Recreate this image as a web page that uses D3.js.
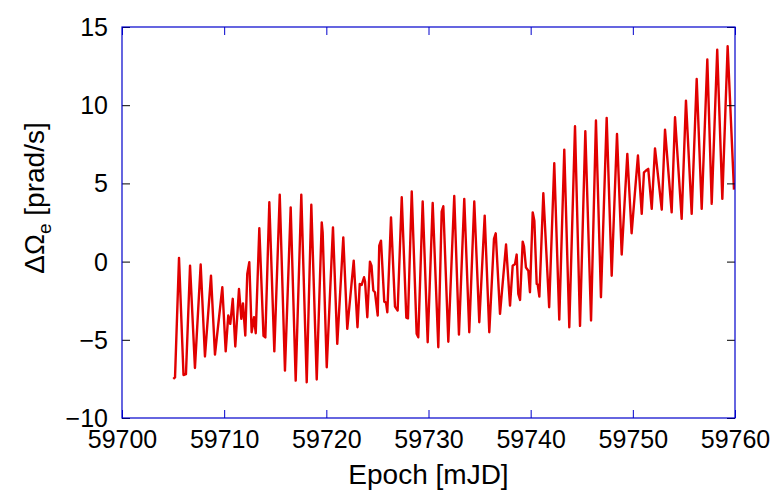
<!DOCTYPE html>
<html>
<head>
<meta charset="utf-8">
<script src="https://cdn.jsdelivr.net/npm/d3@7"></script>
<style>
  html, body { margin: 0; padding: 0; background: #fff; }
  svg { display: block; }
  text { font-family: "Liberation Sans", Arial, Helvetica, sans-serif; fill: #000; }
</style>
</head>
<body>
<svg id="chart" width="771" height="493"></svg>
<script>
// ---- data ----
const epoch = [
  59705.02, 59705.19, 59705.58, 59706.02, 59706.26, 59706.66, 59707.14, 59707.70, 59708.12, 59708.71,
  59709.10, 59709.82, 59710.15, 59710.40, 59710.60, 59710.84, 59711.09, 59711.45, 59711.68, 59711.84,
  59712.07, 59712.26, 59712.46, 59712.69, 59712.92, 59713.09, 59713.44, 59713.85, 59714.03, 59714.42,
  59714.91, 59715.44, 59715.95, 59716.51, 59717.00, 59717.55, 59718.08, 59718.53, 59719.06, 59719.55,
  59719.64, 59720.04, 59720.65, 59721.07, 59721.66, 59722.05, 59722.68, 59723.05, 59723.27, 59723.46,
  59723.69, 59723.79, 59724.01, 59724.27, 59724.42, 59724.60, 59724.76, 59725.03, 59725.18, 59725.35,
  59725.67, 59725.84, 59725.97, 59726.33, 59726.72, 59726.98, 59727.38, 59727.83, 59727.99, 59728.36,
  59728.84, 59729.00, 59729.43, 59729.92, 59730.41, 59730.96, 59731.29, 59731.45, 59731.94, 59732.52,
  59732.98, 59733.50, 59733.99, 59734.48, 59734.97, 59735.50, 59735.95, 59736.41, 59736.58, 59737.00,
  59737.59, 59737.98, 59738.24, 59738.47, 59738.63, 59738.79, 59738.96, 59739.22, 59739.35, 59739.54,
  59739.77, 59739.93, 59740.20, 59740.36, 59740.59, 59740.69, 59740.85, 59741.24, 59741.81, 59742.31,
  59742.80, 59743.29, 59743.78, 59744.34, 59744.83, 59745.35, 59745.91, 59746.39, 59746.88, 59747.44,
  59747.93, 59748.45, 59748.91, 59749.46, 59749.88, 59750.50, 59750.87, 59751.09, 59751.29, 59751.51,
  59751.85, 59752.17, 59752.83, 59753.15, 59753.80, 59754.13, 59754.78, 59755.20, 59755.76, 59756.25,
  59756.74, 59757.29, 59757.72, 59758.26, 59758.76, 59759.28, 59759.90
];
const deltaOmega = [
  -7.50, -7.40, 0.24, -7.25, -7.20, -0.26, -6.80, -0.19, -6.07, -0.90,
  -5.95, -1.64, -5.74, -3.45, -3.98, -2.38, -5.43, -1.75, -3.66, -2.67,
  -4.73, -0.79, -0.04, -4.52, -3.56, -4.58, 2.13, -4.75, -4.85, 3.79,
  -5.74, 4.28, -6.97, 3.47, -7.61, 4.28, -7.72, 3.64, -7.54, 2.51,
  1.87, -6.76, 2.19, -5.26, 1.55, -4.30, 0.06, -4.20, -1.43, -1.49,
  -1.00, -1.28, -3.56, 0.00, -0.26, -1.85, -1.96, -3.45, 1.02, 1.34,
  -2.56, -2.62, -3.24, 2.83, -2.88, -3.13, 4.11, -3.58, -3.63, 4.48,
  -4.62, -4.84, 3.84, -5.16, 3.75, -5.48, 3.20, 3.54, -5.12, 4.19,
  -4.67, 4.01, -4.52, 3.84, -3.88, 2.94, -4.52, 1.45, 1.81, -3.34,
  1.09, -2.81, -0.26, -0.15, 0.45, -2.07, -2.45, 1.28, 0.96, -0.38,
  -0.58, -1.96, 3.15, 2.62, -1.43, -1.47, -2.24, 4.37, -2.92, 6.29,
  -3.71, 7.16, -4.20, 8.65, -4.11, 8.33, -3.77, 9.02, -2.28, 9.19,
  -0.90, 8.16, 0.45, 6.89, 1.81, 6.78, 3.05, 5.71, 5.82, 5.93,
  3.37, 7.24, 3.32, 8.44, 3.15, 9.23, 2.73, 10.29, 3.05, 11.68,
  3.37, 12.92, 3.69, 13.55, 4.01, 13.77, 4.60
];
const xTicks = [59700, 59710, 59720, 59730, 59740, 59750, 59760];
const yTicks = [-10, -5, 0, 5, 10, 15];
const xLabel = "Epoch [mJD]";

// ---- layout ----
const svg = d3.select("#chart");
const pLeft = 122, pRight = 735, pTop = 27, pBottom = 418;
const frameColor = "#0000cc";
const lineColor = "#e10000";

const x = d3.scaleLinear().domain([59700, 59760]).range([pLeft, pRight]);
const y = d3.scaleLinear().domain([-10, 15]).range([pBottom, pTop]);

svg.append("clipPath").attr("id", "clip")
  .append("rect").attr("x", pLeft).attr("y", pTop).attr("width", pRight - pLeft).attr("height", pBottom - pTop);

const pts = epoch.map((e, i) => [e, deltaOmega[i]]);
svg.append("path")
  .datum(pts)
  .attr("clip-path", "url(#clip)")
  .attr("fill", "none")
  .attr("stroke", lineColor)
  .attr("stroke-width", 2.4)
  .attr("stroke-linejoin", "round")
  .attr("d", d3.line().x(d => x(d[0])).y(d => y(d[1])));

const tickLen = 8;
const fs = 25;

const xb = svg.append("g").attr("transform", `translate(0,${pBottom})`)
  .call(d3.axisBottom(x).tickValues(xTicks).tickFormat(d3.format("d")).tickSizeInner(-tickLen).tickSizeOuter(0).tickPadding(0));
xb.select(".domain").remove();
xb.selectAll(".tick line").attr("stroke", frameColor).attr("stroke-width", 1);
xb.selectAll(".tick text").attr("font-size", fs).attr("dy", null).attr("y", 30);

const xt = svg.append("g").attr("transform", `translate(0,${pTop})`)
  .call(d3.axisTop(x).tickValues(xTicks).tickFormat("").tickSizeInner(-tickLen).tickSizeOuter(0));
xt.select(".domain").remove();
xt.selectAll(".tick line").attr("stroke", frameColor).attr("stroke-width", 1);

const yl = svg.append("g").attr("transform", `translate(${pLeft},0)`)
  .call(d3.axisLeft(y).tickValues(yTicks).tickFormat(d3.format("d")).tickSizeInner(-tickLen).tickSizeOuter(0).tickPadding(0));
yl.select(".domain").remove();
yl.selectAll(".tick line").attr("stroke", "#000").attr("stroke-width", 1);
yl.selectAll(".tick text").attr("font-size", fs).attr("x", -14).attr("dy", "0.34em");

const yr = svg.append("g").attr("transform", `translate(${pRight},0)`)
  .call(d3.axisRight(y).tickValues(yTicks).tickFormat("").tickSizeInner(-tickLen).tickSizeOuter(0));
yr.select(".domain").remove();
yr.selectAll(".tick line").attr("stroke", "#000").attr("stroke-width", 1);

svg.append("rect")
  .attr("x", pLeft).attr("y", pTop).attr("width", pRight - pLeft).attr("height", pBottom - pTop)
  .attr("fill", "none").attr("stroke", frameColor).attr("stroke-width", 1.2);

svg.append("text")
  .attr("x", (pLeft + pRight) / 2).attr("y", 484)
  .attr("text-anchor", "middle").attr("font-size", 28)
  .text(xLabel);

const yt = svg.append("text")
  .attr("transform", "translate(44,198) rotate(-90)")
  .attr("text-anchor", "middle").attr("font-size", 28);
yt.append("tspan").text("ΔΩ");
yt.append("tspan").attr("font-size", 19).attr("dy", 7).text("e");
yt.append("tspan").attr("dy", -7).text(" [prad/s]");
</script>
</body>
</html>
